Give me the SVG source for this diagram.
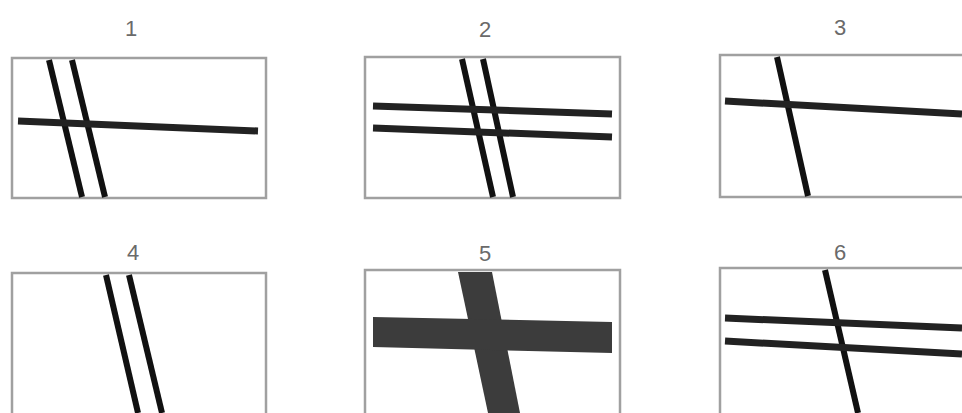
<svg xmlns="http://www.w3.org/2000/svg" width="962" height="413" viewBox="0 0 962 413">
<style>
.box{fill:#fff;stroke:#a0a0a0;stroke-width:2.5}
.lbl{font-family:"Liberation Sans",Arial,sans-serif;font-size:22px;fill:#6a6a6a;text-anchor:middle}
.ln{stroke:#111;stroke-width:6;stroke-linecap:butt;fill:none}
.hl{stroke:#222;stroke-width:7;fill:none}
.band{fill:#3c3c3c}
</style>
<rect width="962" height="413" fill="#fff"/>
<g id="panel1">
<text class="lbl" x="131" y="36">1</text>
<rect class="box" x="12" y="58" width="254" height="140"/>
<line class="ln" x1="49" y1="60" x2="82" y2="197"/>
<line class="ln" x1="72" y1="60" x2="105" y2="197"/>
<line class="hl" x1="18" y1="121" x2="258" y2="131"/>
</g>
<g id="panel2">
<text class="lbl" x="485" y="37">2</text>
<rect class="box" x="365" y="57" width="255" height="141"/>
<line class="ln" x1="462" y1="59" x2="493" y2="197"/>
<line class="ln" x1="483" y1="59" x2="513" y2="197"/>
<line class="hl" x1="373" y1="106" x2="612" y2="114"/>
<line class="hl" x1="373" y1="128" x2="612" y2="137"/>
</g>
<g id="panel3">
<text class="lbl" x="840" y="35">3</text>
<rect class="box" x="720" y="55" width="260" height="142"/>
<line class="ln" x1="777" y1="57" x2="808" y2="196"/>
<line class="hl" x1="725" y1="101" x2="962" y2="114"/>
</g>
<g id="panel4">
<text class="lbl" x="133" y="260">4</text>
<rect class="box" x="12" y="273" width="254" height="150"/>
<line class="ln" x1="106" y1="275" x2="138" y2="413"/>
<line class="ln" x1="129" y1="275" x2="162" y2="413"/>
</g>
<g id="panel5">
<text class="lbl" x="485" y="261">5</text>
<rect class="box" x="365" y="270" width="255" height="150"/>
<polygon class="band" points="458,272 492,272 520,413 488,413"/>
<polygon class="band" points="373,317 612,322 612,353 373,347"/>
</g>
<g id="panel6">
<text class="lbl" x="840" y="260">6</text>
<rect class="box" x="720" y="268" width="260" height="150"/>
<line class="ln" x1="825" y1="270" x2="858" y2="413"/>
<line class="hl" x1="725" y1="318" x2="962" y2="328"/>
<line class="hl" x1="725" y1="341" x2="962" y2="354"/>
</g>
</svg>
